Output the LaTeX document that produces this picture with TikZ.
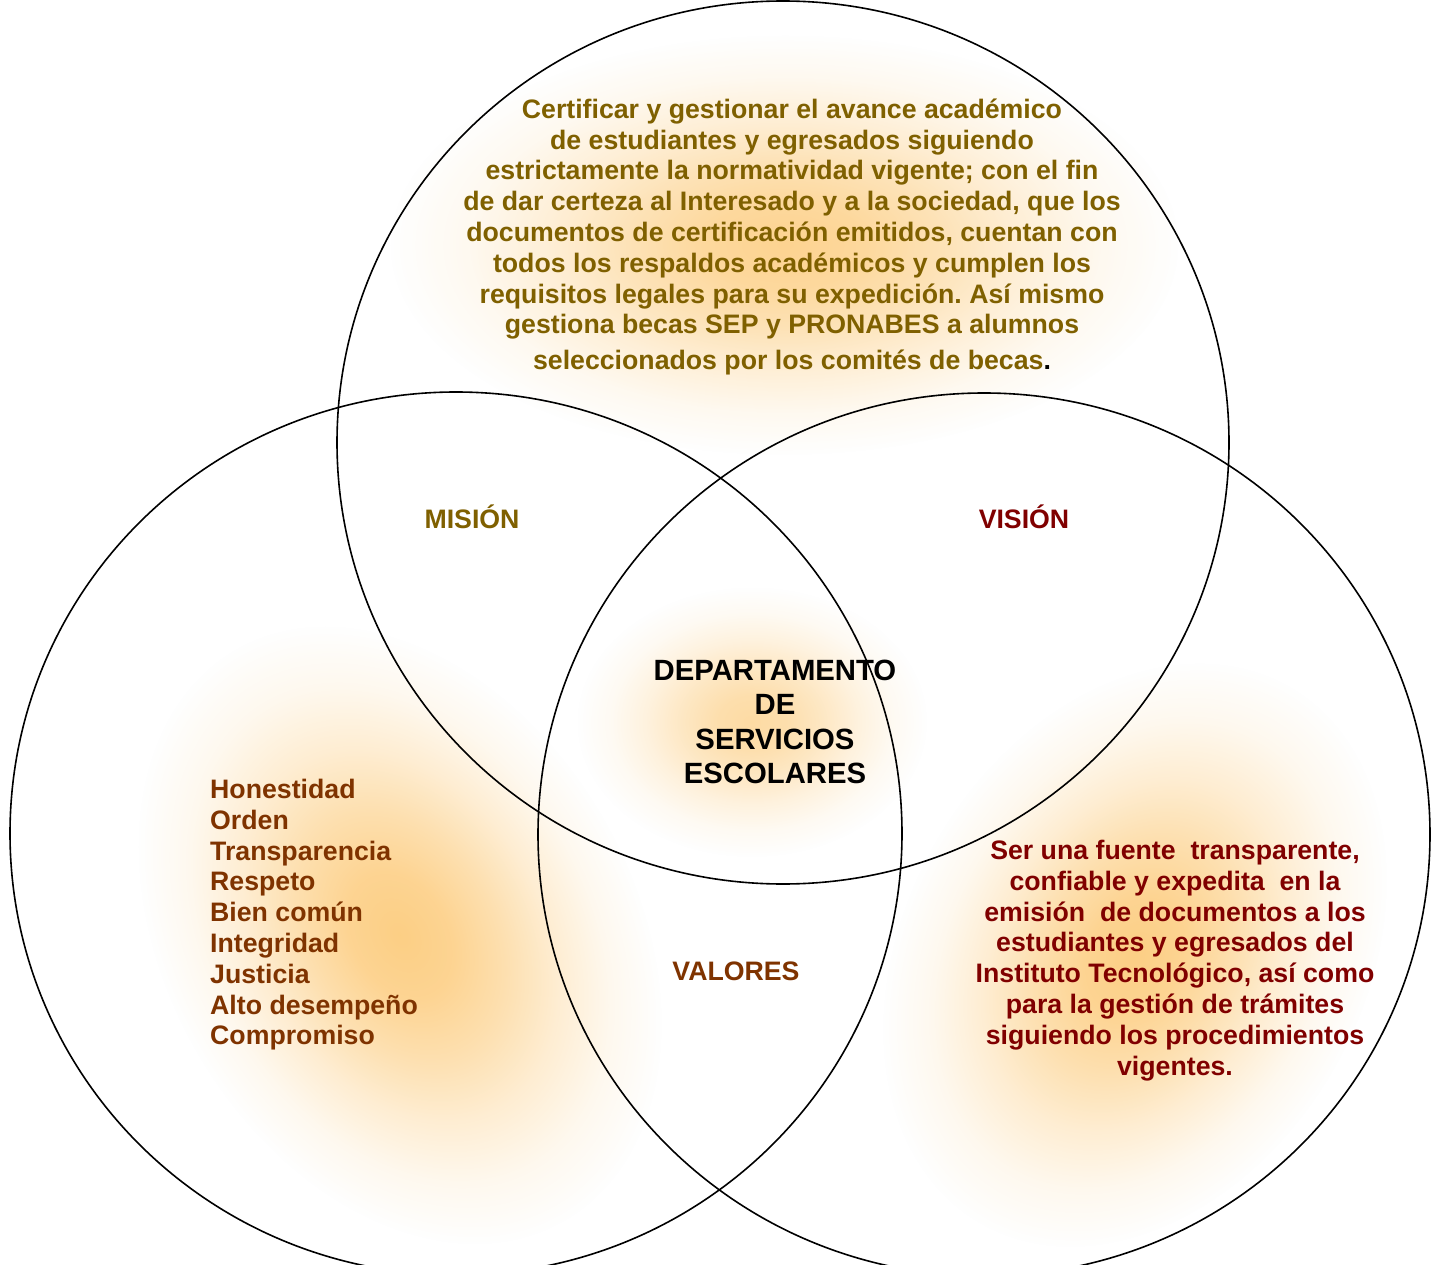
\documentclass[tikz,border=0pt]{standalone}
\usepackage{fontspec}
\setmainfont{Liberation Sans}
\usetikzlibrary{fadings}
\frenchspacing
\definecolor{olivetxt}{RGB}{127,96,0}
\definecolor{redtxt}{RGB}{128,0,0}
\definecolor{browntxt}{RGB}{127,51,0}
\definecolor{glowcol}{RGB}{252,190,90}
\pgfdeclareradialshading{glowshade}{\pgfpointorigin}{%
  color(0bp)=(white!74!black); color(5bp)=(white!66!black);
  color(10bp)=(white!48!black); color(15bp)=(white!27!black);
  color(20bp)=(white!10!black); color(25bp)=(black); color(50bp)=(black)}
\pgfdeclarefading{glowfade}{\pgfuseshading{glowshade}}
\begin{document}
\begin{tikzpicture}[x=1pt,y=-1pt,
  ring/.style={draw=black, line width=1.6pt},
  glow/.style={fill=glowcol, path fading=glowfade},
  body/.style={font=\bfseries\fontsize{26.7}{30.8}\selectfont, inner sep=0pt, align=center},
  title/.style={font=\bfseries\fontsize{26.7}{30.7}\selectfont, inner sep=0pt, anchor=base},
  dept/.style={font=\bfseries\fontsize{29.3}{34.3}\selectfont, inner sep=0pt, align=center}]
\useasboundingbox (0,0) rectangle (1433,1265);
\clip (0,0) rectangle (1433,1265);
\fill[white] (0,0) rectangle (1433,1265);
% glows
\fill[glow, fill opacity=0.9] (785,245) ellipse[x radius=395pt, y radius=210pt];
\fill[glow, fill opacity=0.75] (752,722) ellipse[x radius=175pt, y radius=135pt];
\fill[glow, transform canvas={rotate around={30:(400,935)}}] (400,935) ellipse[x radius=235pt, y radius=330pt];
\fill[glow, transform canvas={rotate around={-30:(1135,955)}}] (1135,955) ellipse[x radius=230pt, y radius=310pt];
% circles
\draw[ring] (783,442.5) ellipse[x radius=446pt, y radius=441.5pt];
\draw[ring] (456,833.5) ellipse[x radius=446pt, y radius=441.5pt];
\draw[ring] (984,834.5) ellipse[x radius=446pt, y radius=441.5pt];
% texts
\node[body, text=olivetxt, anchor=north] (mtext) at (792,98.5)
 {Certificar y gestionar el avance académico\\
  de estudiantes y egresados siguiendo\\
  estrictamente la normatividad vigente; con el fin\\
  de dar certeza al Interesado y a la sociedad, que los\\
  documentos de certificación emitidos, cuentan con\\
  todos los respaldos académicos y cumplen los\\
  requisitos legales para su expedición. Así mismo\\
  gestiona becas SEP y PRONABES a alumnos\\[5pt]
  seleccionados por los comités de becas{\color{black}.}};
\node[body, text=redtxt, anchor=north] (vtext) at (1175,840)
 {Ser una fuente\ \ transparente,\\
  confiable y expedita\ \ en la\\
  emisión\ \ de documentos a los\\
  estudiantes y egresados del\\
  Instituto Tecnológico, así como\\
  para la gestión de trámites\\
  siguiendo los procedimientos\\
  vigentes.};
\node[body, text=browntxt, align=left, anchor=north west] (valtext) at (210,779)
 {Honestidad\\ Orden\\ Transparencia\\ Respeto\\ Bien común\\ Integridad\\ Justicia\\ Alto desempeño\\ Compromiso};
\node[dept, anchor=north] (dtext) at (775,660)
 {DEPARTAMENTO\\ DE\\ SERVICIOS\\ ESCOLARES};
\node[title, text=olivetxt] (mision) at (472,528) {MISIÓN};
\node[title, text=redtxt] (vision) at (1024,528) {VISIÓN};
\node[title, text=browntxt] (valores) at (736,980.5) {VALORES};
\end{tikzpicture}
\end{document}
